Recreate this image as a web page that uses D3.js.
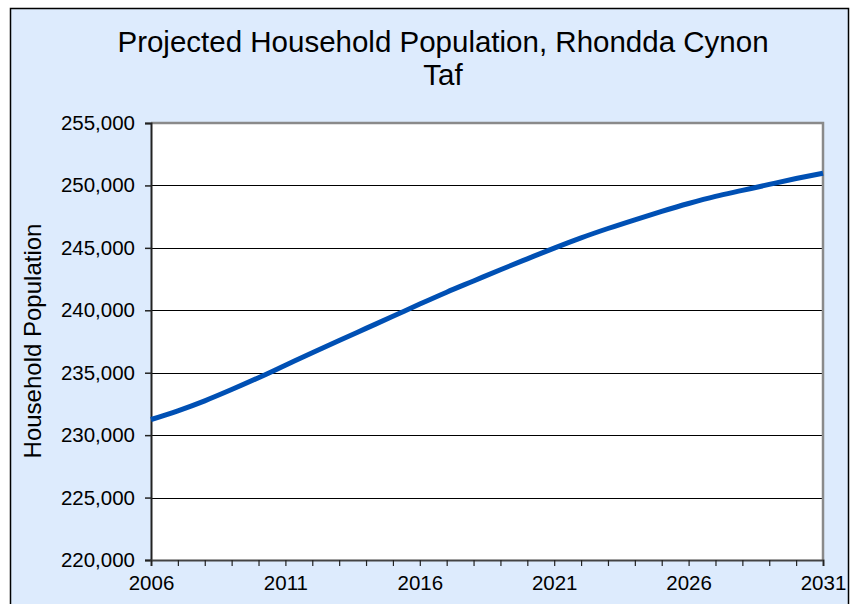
<!DOCTYPE html>
<html><head><meta charset="utf-8">
<script src="https://cdn.jsdelivr.net/npm/d3@7"></script>
<style>body{margin:0;background:#fff}svg{display:block}text{font-family:"Liberation Sans",Arial,sans-serif;fill:#000}</style>
</head><body><div id="c"></div>
<script>
const years = [2006,2007,2008,2009,2010,2011,2012,2013,2014,2015,2016,2017,2018,2019,2020,2021,2022,2023,2024,2025,2026,2027,2028,2029,2030,2031];
const population = [231250,231950,232750,233650,234600,235600,236600,237580,238550,239520,240500,241450,242350,243250,244120,244980,245800,246550,247250,247920,248550,249120,249600,250080,250550,250980];
const xTickLabels = [2006,2011,2016,2021,2026,2031];
const yTickValues = [220000,225000,230000,235000,240000,245000,250000,255000];
const titleLines = ["Projected Household Population, Rhondda Cynon","Taf"];
const yAxisTitle = "Household Population";

const W=852,H=604;
const svg=d3.select("#c").append("svg").attr("width",W).attr("height",H);
svg.append("rect").attr("x",10.5).attr("y",8.5).attr("width",838).attr("height",610)
  .attr("fill","#DDEBFD").attr("stroke","#000").attr("stroke-width",1.5);

const L=151,R=823,T=123,B=560;
const x=d3.scaleLinear().domain([2006,2031]).range([L,R]);
const y=d3.scaleLinear().domain([220000,255000]).range([B,T]);

svg.append("rect").attr("x",L).attr("y",T).attr("width",R-L).attr("height",B-T).attr("fill","#fff");

// gridlines
svg.append("g").selectAll("line").data(yTickValues.filter(v=>v>220000&&v<255000)).join("line")
  .attr("x1",L).attr("x2",R).attr("y1",d=>Math.round(y(d))+0.5).attr("y2",d=>Math.round(y(d))+0.5)
  .attr("stroke","#000").attr("stroke-width",1);

// top/right gray border
svg.append("path").attr("d",`M${L},${T}H${R}V${B}`).attr("fill","none").attr("stroke","#8a8a8a").attr("stroke-width",2.5);

// y axis
const ya=svg.append("g").attr("transform",`translate(${L},0)`)
  .call(d3.axisLeft(y).tickValues(yTickValues).tickSize(6).tickPadding(10).tickFormat(d3.format(",")));
ya.select(".domain").attr("stroke","#222").attr("stroke-width",2);
ya.selectAll(".tick line").attr("stroke","#222").attr("stroke-width",1.5);
ya.selectAll("text").attr("font-size",20.5).style("font-family","Liberation Sans, Arial, sans-serif");

// x axis
const xa=svg.append("g").attr("transform",`translate(0,${B})`)
  .call(d3.axisBottom(x).tickValues(years).tickSize(6).tickPadding(9).tickFormat(d=>xTickLabels.includes(d)?d:""));
xa.select(".domain").attr("stroke","#444").attr("stroke-width",2);
xa.selectAll(".tick line").attr("stroke","#222").attr("stroke-width",1.2);
xa.selectAll("text").attr("font-size",20.5).style("font-family","Liberation Sans, Arial, sans-serif");

// line
svg.append("path").datum(years.map((yr,i)=>[yr,population[i]]))
  .attr("d",d3.line().x(d=>x(d[0])).y(d=>y(d[1])).curve(d3.curveMonotoneX))
  .attr("fill","none").attr("stroke","#0050B4").attr("stroke-width",5).attr("stroke-linejoin","round");

// title
svg.append("g").selectAll("text").data(titleLines).join("text")
  .attr("x",443).attr("y",(d,i)=>52+i*33).attr("text-anchor","middle").attr("font-size",29.5).text(d=>d);

svg.append("text").attr("transform","translate(41,341) rotate(-90)").attr("text-anchor","middle")
  .attr("font-size",24).text(yAxisTitle);
</script></body></html>
